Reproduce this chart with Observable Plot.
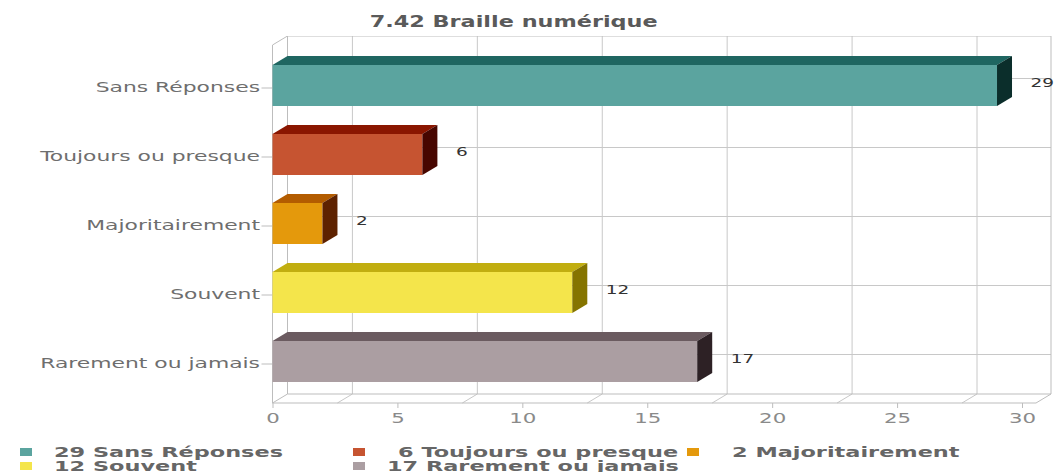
<!DOCTYPE html>
<html>
<head>
<meta charset="utf-8">
<script src="https://cdn.jsdelivr.net/npm/d3@7"></script>
<script src="https://cdn.jsdelivr.net/npm/@observablehq/plot@0.6"></script>
<style>
  html, body { margin: 0; padding: 0; background: #fff; }
  body { width: 1054px; height: 472px; overflow: hidden; font-family: "DejaVu Sans", sans-serif; }
  #title { width: 1028px; height: 23px; padding-top: 13px; line-height: 18px; text-align: center;
           font-size: 15px; font-weight: bold; color: #5a5a5a; }
  #title span { display: inline-block; transform: scaleX(1.49); transform-origin: center center; }
  #chart svg { display: block; }
  #chart g[aria-label^="y-axis"] text { font-size: 14px; fill: #6e6e6e; }
  #chart g[aria-label^="x-axis"] text { font-size: 14px; fill: #8a8a8a; }
  #chart g[aria-label^="y-axis"] line, #chart g[aria-label^="y-axis"] path,
  #chart g[aria-label^="x-axis"] line, #chart g[aria-label^="x-axis"] path { stroke: #bdbdbd; }
  #legend { position: relative; width: 1054px; height: 40px; }
  #legend .sw { position: absolute; width: 12px; height: 8px; }
  #legend .lt { position: absolute; font-size: 14px; font-weight: bold; color: #666;
                line-height: 12px; white-space: pre; transform: scaleX(1.6); transform-origin: left center; }
</style>
</head>
<body>
<div id="title"><span></span></div>
<div id="chart"></div>
<div id="legend"></div>
<script>
// ---- data ----
const chartTitle = "7.42 Braille numérique";
const categories = ["Sans Réponses", "Toujours ou presque", "Majoritairement", "Souvent", "Rarement ou jamais"];
const values = [29, 6, 2, 12, 17];
const xTicks = [0, 5, 10, 15, 20, 25, 30];
// ---- palette (front / top / side faces) ----
const frontColors = ["#5ba49f", "#c65431", "#e4990c", "#f4e54b", "#ab9ea2"];
const topColors   = ["#1f6661", "#8a1600", "#b35c00", "#c1ae10", "#6b5b60"];
const sideColors  = ["#0b2e2b", "#470600", "#5e2200", "#857400", "#2d2125"];

const DX = 15, DY = 9;         // 3D depth offset in px
const FACE_SHIFT = -2;         // front face offset from band
const GRID_SHIFT = -45;        // back-wall gridline offset as drawn in the source
const gridColor = "#c8c8c8", frameColor = "#bdbdbd";

const rows = categories.map((c, i) => ({cat: c, value: values[i], front: frontColors[i]}));

document.querySelector("#title span").textContent = chartTitle;

function frame(index, scales, channels, dims) {
  const x = scales.x, y = scales.y;
  const bw = y.bandwidth ? y.bandwidth() : 0;
  const {width, height, marginLeft, marginRight, marginTop, marginBottom} = dims;
  const L = marginLeft, R = width - marginRight, T = marginTop, B = height - marginBottom;
  const g = d3.create("svg:g").attr("fill", "none");
  const line = (x1, y1, x2, y2, c) => g.append("line")
    .attr("x1", x1).attr("y1", y1).attr("x2", x2).attr("y2", y2)
    .attr("stroke", c).attr("stroke-width", 1);
  categories.forEach(c => {
    const gy = y(c) + bw / 2 - DY;
    line(L + DX, gy, R + DX, gy, gridColor);
  });
  xTicks.slice(1).forEach(v => {
    const gx = x(v) + GRID_SHIFT;
    line(gx, T - DY, gx, B - DY, gridColor);
    line(gx - DX, B, gx, B - DY, gridColor);
  });
  line(L + DX, T - DY, R + DX, T - DY, frameColor);
  line(R + DX, T - DY, R + DX, B - DY, frameColor);
  line(L + DX, T - DY, L + DX, B - DY, frameColor);
  line(L + DX, B - DY, R + DX, B - DY, frameColor);
  line(L, B, R, B, frameColor);
  line(R, B, R + DX, B - DY, frameColor);
  line(L, B, L + DX, B - DY, frameColor);
  line(L, T, L + DX, T - DY, frameColor);
  line(L, T, L, B, frameColor);
  return g.node();
}

function bars3d(index, scales, channels, dims) {
  const x = scales.x, y = scales.y;
  const bw = y.bandwidth();
  const g = d3.create("svg:g");
  categories.forEach((c, i) => {
    const x0 = x(0), x1 = x(values[i]);
    const ft = y(c) + FACE_SHIFT, fb = ft + bw;
    g.append("path")
      .attr("d", `M${x0},${ft}L${x0 + DX},${ft - DY}L${x1 + DX},${ft - DY}L${x1},${ft}Z`)
      .attr("fill", topColors[i]);
    g.append("path")
      .attr("d", `M${x1},${ft}L${x1 + DX},${ft - DY}L${x1 + DX},${fb - DY}L${x1},${fb}Z`)
      .attr("fill", sideColors[i]);
  });
  return g.node();
}

const chart = Plot.plot({
  width: 1054,
  height: 396,
  marginLeft: 272.5,
  marginRight: 18,
  marginTop: 9,
  marginBottom: 29,
  style: {fontFamily: "DejaVu Sans, sans-serif", fontSize: "14px", color: "#777", background: "#fff"},
  x: {domain: [0, 30], range: [272.5, 1022], ticks: xTicks, tickSize: 5, tickPadding: 5, label: null, grid: false},
  y: {domain: categories, range: [16.8, 361.8], paddingInner: 0.41, paddingOuter: 0.205, tickSize: 11, tickPadding: 2, label: null},
  color: {type: "identity"},
  marks: [
    frame,
    Plot.barX(rows, {x1: 0, x2: "value", y: "cat", fill: "front", dy: FACE_SHIFT}),
    bars3d,
    Plot.text(rows, {x: "value", y: "cat", text: d => String(d.value), dx: 33, dy: -5, textAnchor: "start",
                     fill: "#333", fontSize: 13, className: "vlabel"})
  ]
});
document.getElementById("chart").appendChild(chart);

// stretch svg texts horizontally like the source
chart.querySelectorAll("text").forEach(t => {
  const len = t.getComputedTextLength();
  if (len <= 0) return;
  const inY = t.closest('g[aria-label^="y-axis"]');
  const inX = t.closest('g[aria-label^="x-axis"]');
  const k = inY ? 1.56 : inX ? 1.52 : 1.42;
  t.setAttribute("textLength", (len * k).toFixed(2));
  t.setAttribute("lengthAdjust", "spacingAndGlyphs");
});

// ---- legend ----
const legend = document.getElementById("legend");
const colX = [19.5, 353, 687], rowY = [19.5, 33.5];
categories.forEach((c, i) => {
  const col = i % 3, row = Math.floor(i / 3);
  const sw = document.createElement("div");
  sw.className = "sw";
  sw.style.left = colX[col] + "px";
  sw.style.top = (rowY[row] - 4) + "px";
  sw.style.background = frontColors[i];
  legend.appendChild(sw);
  const t = document.createElement("div");
  t.className = "lt";
  t.style.left = (colX[col] + 34 + (values[i] < 10 ? 11 : 0)) + "px";
  t.style.top = (rowY[row] - 6) + "px";
  t.textContent = `${values[i]} ${c}`;
  legend.appendChild(t);
});
</script>
</body>
</html>
